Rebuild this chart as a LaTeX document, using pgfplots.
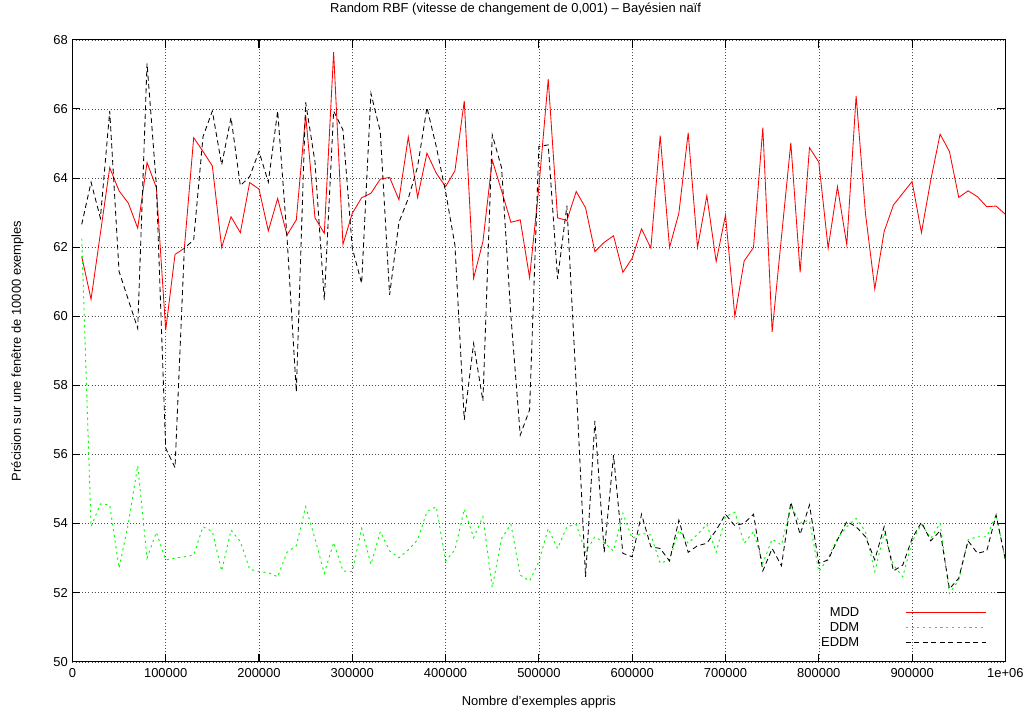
\documentclass[border=0pt]{standalone}
\usepackage{pgfplots}
\pgfplotsset{compat=1.18}
\usepackage{pgfplotstable}
\usepackage{fontspec}
\setmainfont{Liberation Sans}
\pgfplotstableread{
k mdd ddm eddm
1 61.73 62.25 62.66
2 60.49 53.91 63.88
3 62.40 54.57 62.84
4 64.30 54.54 65.94
5 63.63 52.71 61.30
6 63.27 54.01 60.47
7 62.55 55.68 59.65
8 64.45 53.00 67.32
9 63.72 53.75 63.80
10 59.60 52.95 56.18
11 61.79 53.00 55.62
12 61.97 53.04 61.97
13 65.17 53.09 62.21
14 64.77 53.91 65.20
15 64.35 53.77 65.94
16 61.99 52.63 64.38
17 62.88 53.81 65.75
18 62.42 53.48 63.78
19 63.87 52.68 64.04
20 63.68 52.61 64.77
21 62.47 52.58 63.88
22 63.41 52.46 65.94
23 62.35 53.17 62.30
24 62.79 53.36 57.82
25 65.83 54.49 66.19
26 62.85 53.57 64.47
27 62.40 52.56 60.47
28 67.64 53.45 65.94
29 62.08 52.63 65.39
30 62.98 52.61 61.97
31 63.43 53.86 60.95
32 63.56 52.82 66.45
33 63.97 53.77 65.34
34 64.02 53.21 60.62
35 63.37 53.01 62.72
36 65.19 53.24 63.41
37 63.44 53.53 64.33
38 64.72 54.35 66.04
39 64.14 54.49 64.91
40 63.75 52.92 63.60
41 64.21 53.24 62.06
42 66.23 54.42 57.00
43 61.10 53.59 59.21
44 62.16 54.20 57.55
45 64.52 52.15 65.25
46 63.63 53.57 64.30
47 62.72 53.98 60.00
48 62.79 52.51 56.56
49 61.12 52.34 57.29
50 63.75 52.90 64.91
51 66.86 53.86 64.96
52 62.85 53.28 61.08
53 62.77 53.91 63.20
54 63.61 53.98 58.00
55 63.14 53.17 52.46
56 61.87 53.62 56.97
57 62.14 53.45 53.17
58 62.33 53.21 55.98
59 61.27 54.30 53.14
60 61.68 53.57 53.04
61 62.53 53.72 54.27
62 61.97 53.67 53.33
63 65.23 52.85 53.28
64 61.99 52.95 52.92
65 62.98 53.81 54.10
66 65.31 53.43 53.17
67 61.99 53.69 53.36
68 63.49 53.98 53.43
69 61.58 53.17 53.81
70 62.93 54.20 54.27
71 59.99 54.33 53.94
72 61.60 53.43 54.01
73 61.99 53.77 54.27
74 65.46 52.85 52.63
75 59.55 53.55 53.28
76 62.30 53.38 52.78
77 65.02 54.52 54.62
78 61.27 54.01 53.69
79 64.88 54.10 54.54
80 64.46 52.61 52.85
81 61.97 53.00 52.95
82 63.75 53.57 53.53
83 62.07 53.91 54.06
84 66.38 54.15 53.91
85 62.98 53.77 53.62
86 60.79 52.61 52.95
87 62.45 53.72 53.91
88 63.22 52.80 52.63
89 63.56 52.46 52.80
90 63.90 53.48 53.57
91 62.42 53.98 54.04
92 63.94 53.57 53.50
93 65.27 54.01 53.79
94 64.77 51.98 52.11
95 63.44 52.37 52.42
96 63.63 53.53 53.50
97 63.46 53.62 53.14
98 63.17 53.62 53.21
99 63.19 54.25 54.25
100 62.95 52.95 52.95
}\datatable
\begin{document}
\begin{tikzpicture}
\begin{axis}[
  scale only axis,
  width=933bp, height=622bp,
  xmin=0, xmax=1000000, ymin=50, ymax=68,
  xtick={0,100000,...,1000000},
  xticklabels={0,100000,200000,300000,400000,500000,600000,700000,800000,900000,1e+06},
  scaled x ticks=false,
  ytick={50,52,...,68},
  /pgf/number format/assume math mode=true,
  tick label style={font=\fontsize{13}{15}\selectfont},
  xticklabel style={yshift=-3bp},
  yticklabel style={xshift=-1bp},
  label style={font=\fontsize{13}{15}\selectfont},
  title style={font=\fontsize{13}{15}\selectfont, at={(0.475,1)}, anchor=base, yshift=21bp},
  title={Random RBF (vitesse de changement de 0,001) – Bayésien naïf},
  xlabel={Nombre d’exemples appris},
  ylabel={Précision sur une fenêtre de 10000 exemples},
  xlabel style={at={(0.5,0)}, anchor=base, yshift=-44bp},
  ylabel style={at={(-0.059,0.5)}, anchor=center},
  axis line style={line width=1.1pt},
  major tick length=8bp,
  tick style={line width=1.1pt, black},
  tick align=inside,
  xmajorgrids, ymajorgrids,
  major grid style={black!70, line width=0.6pt, dash pattern=on 1pt off 2.2pt},
  legend plot pos=right,
  legend cell align=right,
  legend style={draw=none, fill=none, at={(1,0)}, anchor=south east, xshift=-16bp, yshift=10bp,
    font=\fontsize{13}{15}\selectfont, row sep=0.5bp, column sep=44bp},
  legend image code/.code={\draw[#1] (0bp,0bp) -- (80bp,0bp);},
]
\addplot[red, line width=0.85pt] table[x expr=\thisrow{k}*10000, y=mdd] {\datatable};
\addlegendentry{MDD}
\addplot[green, line width=0.95pt, dash pattern=on 2.2pt off 3.6pt] table[x expr=\thisrow{k}*10000, y=ddm] {\datatable};
\addlegendentry{DDM}
\addplot[black, line width=0.85pt, dash pattern=on 5pt off 3.5pt] table[x expr=\thisrow{k}*10000, y=eddm] {\datatable};
\addlegendentry{EDDM}
\end{axis}
\path[use as bounding box] ([xshift=-72.4bp,yshift=-50.9bp]current axis.south west) rectangle ([xshift=27.6bp,yshift=38.2bp]current axis.north east);
\end{tikzpicture}
\end{document}
